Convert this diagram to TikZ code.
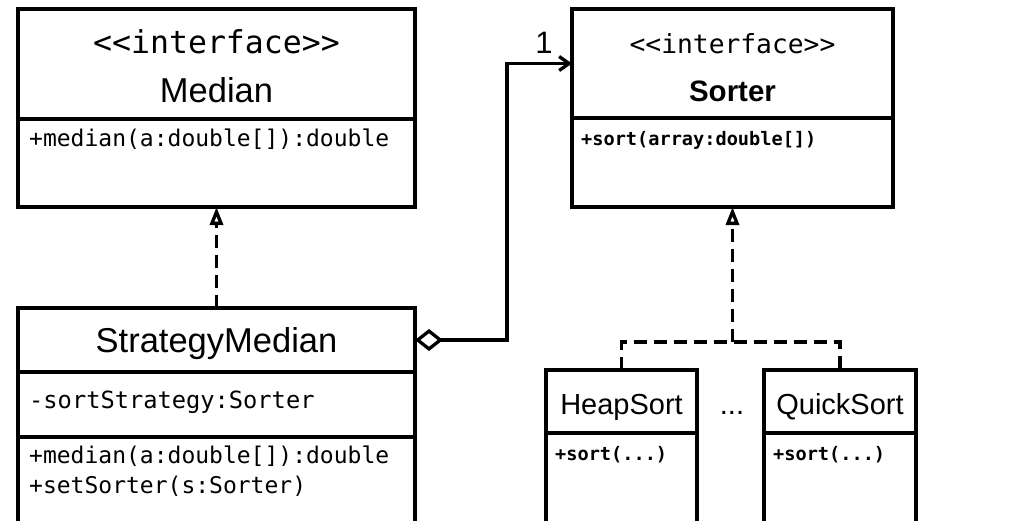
\documentclass[tikz,border=0pt]{standalone}
\usepackage{fontspec}
\setmainfont{Liberation Sans}
\newfontfamily\umlmono{DejaVu Sans Mono}[Ligatures=TeXOff]
\usetikzlibrary{arrows.meta, positioning}

\begin{document}
\begin{tikzpicture}[x=1pt, y=-1pt,
    umlbox/.style={draw, line width=3.3pt, inner sep=0pt, outer sep=0pt, anchor=north west},
    stereo/.style={anchor=base, inner sep=0pt, font=\umlmono\fontsize{31.5}{36}\selectfont},
    cname/.style={anchor=base, inner sep=0pt, font=\fontsize{34.5}{40}\selectfont},
    subname/.style={anchor=base, inner sep=0pt, font=\fontsize{29}{34}\selectfont},
    member/.style={anchor=base west, inner sep=0pt, font=\umlmono\fontsize{23}{28}\selectfont},
    bmember/.style={anchor=base west, inner sep=0pt, font=\umlmono\bfseries\fontsize{18.6}{22}\selectfont},
    dashline/.style={line width=3.3pt, dash pattern=on 13pt off 7pt},
    realize/.style={dashline, -{Triangle[open, length=18pt, width=13pt]}},
    aggr/.style={line width=3.3pt, {Diamond[open, length=28pt, width=22pt]}-{Straight Barb[length=10pt, width=14pt]}}]
    \useasboundingbox (0,0) rectangle (1033,520);
    \clip (0,0) rectangle (1033,520);

    % Median
    \node[umlbox, minimum width=397pt, minimum height=110pt] (medianhead) at (18,9) {};
    \node[umlbox, minimum width=397pt, minimum height=88pt, below=0pt of medianhead] (medianops) {};
    \node[stereo] (medianst) at (216.5,53) {<<interface>>};
    \node[cname] (medianname) at (216.5,102) {Median};
    \node[member] (medianop) at (29,146) {+median(a:double[]):double};

    % Sorter
    \node[umlbox, minimum width=321pt, minimum height=109pt] (sorterhead) at (572,9) {};
    \node[umlbox, minimum width=321pt, minimum height=89pt, below=0pt of sorterhead] (sorterops) {};
    \node[stereo, font=\umlmono\fontsize{26.3}{30}\selectfont] (sorterst) at (732.5,53) {<<interface>>};
    \node[cname, font=\bfseries\fontsize{29.5}{34}\selectfont] (sortername) at (732.5,101) {Sorter};
    \node[bmember] (sorterop) at (581,145) {+sort(array:double[])};

    % StrategyMedian
    \node[umlbox, minimum width=397pt, minimum height=64pt] (smhead) at (18,308) {};
    \node[umlbox, minimum width=397pt, minimum height=65pt, below=0pt of smhead] (smattr) {};
    \node[umlbox, minimum width=397pt, minimum height=100pt, below=0pt of smattr] (smops) {};
    \node[cname] (smname) at (216.5,352) {StrategyMedian};
    \node[member, font=\umlmono\fontsize{23.7}{28}\selectfont] (smfield) at (29,408) {-sortStrategy:Sorter};
    \node[member] (smop1) at (29,463) {+median(a:double[]):double};
    \node[member] (smop2) at (29,493) {+setSorter(s:Sorter)};

    % concrete sorters
    \node[umlbox, minimum width=151pt, minimum height=63pt] (heaphead) at (546,370) {};
    \node[umlbox, minimum width=151pt, minimum height=100pt, below=0pt of heaphead] (heapops) {};
    \node[subname] (heapname) at (621.5,414) {HeapSort};
    \node[bmember] (heapop) at (555,460) {+sort(...)};

    \node[umlbox, minimum width=152pt, minimum height=63pt] (quickhead) at (764,370) {};
    \node[umlbox, minimum width=152pt, minimum height=100pt, below=0pt of quickhead] (quickops) {};
    \node[subname] (quickname) at (840,414) {QuickSort};
    \node[bmember] (quickop) at (773,460) {+sort(...)};

    \node[subname] (dots) at (732,414) {...};

    % relations
    \draw[realize] (smhead.north) -- (medianops.south);
    \coordinate (join) at (732.5,342);
    \draw[dashline] (heaphead.north) |- (join) -| (quickhead.north);
    \draw[realize] (join) -- (sorterops.south);
    \draw[aggr] (smhead.east) -- ++(92,0) |- (sorterhead.west);
    \node[anchor=base, inner sep=0pt, font=\fontsize{31}{36}\selectfont] (mult) at (544,53) {1};
\end{tikzpicture}
\end{document}
